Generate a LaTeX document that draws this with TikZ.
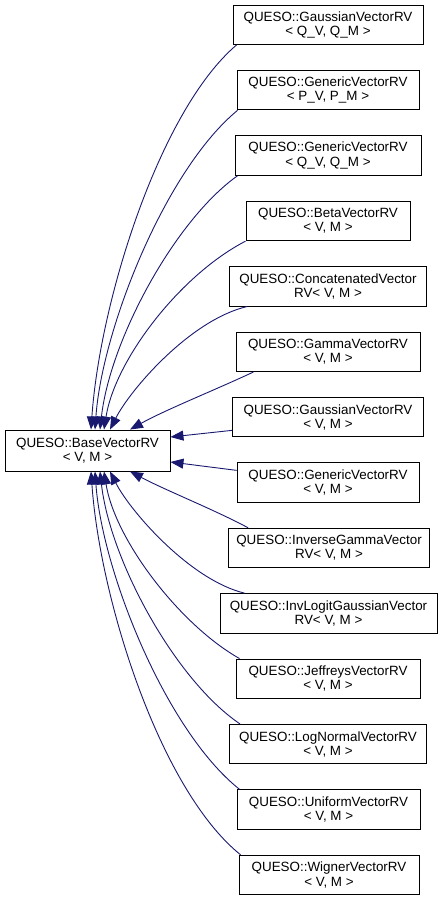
\documentclass[tikz,border=0pt]{standalone}
\usepackage{fontspec}
\setmainfont{Liberation Sans}
\usetikzlibrary{arrows.meta}
\definecolor{edgeblue}{HTML}{191970}
\begin{document}
\begin{tikzpicture}[x=1pt,y=-1pt,
  box/.style={draw=black, line width=0.9pt, fill=white, inner sep=0pt, minimum height=39.5pt,
    align=center, font=\fontsize{13.4}{14.2}\selectfont},
  edge/.style={draw=edgeblue, line width=0.9pt, -{Triangle[length=13pt,width=10pt]}}]
\useasboundingbox (0,0) rectangle (443,900);
\node[box, minimum width=165pt, minimum height=41pt] (base) at (87.5,450.5) {QUESO::BaseVectorRV\\< V, M >};
\node[box, minimum width=190pt] (n1) at (328,24.75) {QUESO::GaussianVectorRV\\< Q\_V, Q\_M >};
\node[box, minimum width=182pt] (n2) at (328,90.15) {QUESO::GenericVectorRV\\< P\_V, P\_M >};
\node[box, minimum width=186pt] (n3) at (328,155.55) {QUESO::GenericVectorRV\\< Q\_V, Q\_M >};
\node[box, minimum width=164pt] (n4) at (328,220.95) {QUESO::BetaVectorRV\\< V, M >};
\node[box, minimum width=197pt] (n5) at (328,286.35) {QUESO::ConcatenatedVector\\RV< V, M >};
\node[box, minimum width=184pt] (n6) at (328,351.75) {QUESO::GammaVectorRV\\< V, M >};
\node[box, minimum width=191pt] (n7) at (328,417.15) {QUESO::GaussianVectorRV\\< V, M >};
\node[box, minimum width=182pt] (n8) at (328,482.55) {QUESO::GenericVectorRV\\< V, M >};
\node[box, minimum width=201pt] (n9) at (329,547.95) {QUESO::InverseGammaVector\\RV< V, M >};
\node[box, minimum width=217pt] (n10) at (328.5,613.35) {QUESO::InvLogitGaussianVector\\RV< V, M >};
\node[box, minimum width=184pt] (n11) at (328,678.75) {QUESO::JeffreysVectorRV\\< V, M >};
\node[box, minimum width=197pt] (n12) at (328,744.15) {QUESO::LogNormalVectorRV\\< V, M >};
\node[box, minimum width=183pt] (n13) at (328.5,809.55) {QUESO::UniformVectorRV\\< V, M >};
\node[box, minimum width=180pt] (n14) at (329,874.95) {QUESO::WignerVectorRV\\< V, M >};
% upper edges
\draw[edge] ([xshift=4pt]n1.south west) .. controls (160,110) and (100,300) .. ([xshift=3.5pt]base.north);
\draw[edge] ([xshift=1pt]n2.south west) .. controls (165,170) and (102,330) .. ([xshift=7.5pt]base.north);
\draw[edge] ([xshift=3pt]n3.south west) .. controls (175,220) and (110,340) .. ([xshift=12.5pt]base.north);
\draw[edge] (n4.south west) .. controls (180,275) and (115,360) .. ([xshift=16.5pt]base.north);
\draw[edge] ([xshift=18pt]n5.south west) .. controls (190,320) and (130,390) .. ([xshift=22.5pt]base.north);
\draw[edge] ([xshift=18pt]n6.south west) .. controls (215,390) and (165,410) .. ([xshift=42.5pt]base.north);
\draw[edge] ([yshift=7pt]n7.south west) -- ([yshift=13.5pt]base.east);
\draw[edge] ([yshift=-8pt]n8.north west) -- ([yshift=-11.5pt]base.east);
% lower edges
\draw[edge] ([xshift=20pt]n9.north west) .. controls (215,510) and (165,490) .. ([xshift=42.5pt]base.south);
\draw[edge] ([xshift=25pt]n10.north west) .. controls (190,580) and (130,511) .. ([xshift=22.5pt]base.south);
\draw[edge] ([xshift=4pt]n11.north west) .. controls (180,625) and (115,540) .. ([xshift=16.5pt]base.south);
\draw[edge] ([xshift=11pt]n12.north west) .. controls (175,680) and (110,560) .. ([xshift=12.5pt]base.south);
\draw[edge] ([xshift=3pt]n13.north west) .. controls (165,730) and (102,570) .. ([xshift=7.5pt]base.south);
\draw[edge] ([xshift=2pt]n14.north west) .. controls (160,790) and (100,600) .. ([xshift=3.5pt]base.south);
\end{tikzpicture}
\end{document}
